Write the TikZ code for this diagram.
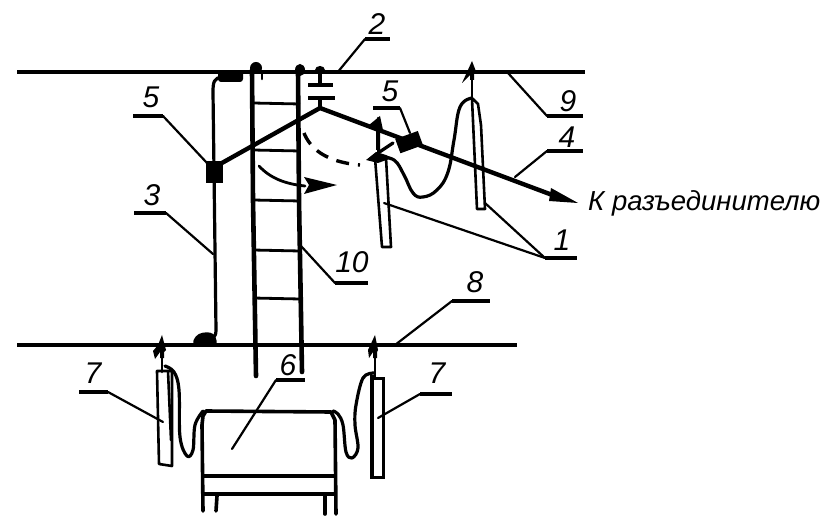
\documentclass[tikz,border=0pt]{standalone}
\usepackage{fontspec}
\setmainfont{Liberation Sans}
\usetikzlibrary{arrows.meta}
\tikzset{
  wire/.style={line width=3.2pt,line cap=round,line join=round},
  thickwire/.style={line width=4.4pt,line cap=round,line join=round},
  thin/.style={line width=2.6pt,line cap=round,line join=round},
  leader/.style={line width=2.2pt,line cap=round,line join=round},
  shelf/.style={line width=3.4pt},
  num/.style={font=\fontsize{30}{30}\selectfont\itshape,inner sep=0pt,text=black},
  caption/.style={font=\fontsize{27.5}{27.5}\selectfont\itshape,inner sep=0pt,anchor=base west},
}
\begin{document}
\begin{tikzpicture}[x=1pt,y=-1pt]
\useasboundingbox (0,0) rectangle (822,521);
% named points
\coordinate (wireStart) at (213,168);
\coordinate (wireBend) at (320,108);
\coordinate (wireEnd) at (555,196);
% busbars
\draw[line width=3.2pt] (17,72) -- (585,72);
\draw[line width=3.8pt] (17,345) -- (517,345);
% ladder
\draw[line width=4.6pt,line cap=round] (252,70) -- (253,200) -- (256,376);
\draw[line width=4.6pt,line cap=round] (298,70) -- (299,200) -- (302,372);
\fill (256,68) circle (6);
\fill (300,70) ellipse (5 and 6);
\fill (320,70) ellipse (5 and 4);
\draw[thin] (262,72) -- (262,79);
\foreach \yy in {103,150,200,250,298}
  \draw[line width=2.8pt] (253,\yy) -- (300,\yy+1);
% earth wire 3
\draw[wire] (238,76) -- (222,77) .. controls (214,78) and (213,82) .. (213,92) -- (216,330) .. controls (216,338) and (212,340) .. (205,340);
\fill[rounded corners=3pt] (218,71) rectangle (243,82);
\fill[rounded corners=4pt] (192,345) -- (195,336) -- (203,332) -- (214,333) -- (218,345) -- cycle;
\fill (206,161) rectangle (223,183);
% insulator
\draw[line width=3.4pt] (320,72) -- (320,85);
\draw[line width=3.4pt] (308,85) -- (333,85);
\draw[line width=3.4pt] (308,98) -- (335,98);
\draw[line width=3.4pt] (320,98) -- (320,108);
% main wire
\draw[thickwire] (wireStart) -- (wireBend) -- (wireEnd);
\fill (551,188) -- (578,203) -- (549,201) -- cycle;
\fill[rotate around={20:(408,142)}] (397,135) rectangle (421,150);
% left arrester on upper bar
\draw[thin] (378,118) -- (378,157);
\fill (380,116) -- (383,130) -- (380,130) -- (380,150) -- (376,150) -- (376,128) -- (369,125) -- cycle;
\draw[line width=3.2pt,line cap=round] (393,143) -- (378,153);
\fill (366,160) -- (376,152) -- (386,155) -- (392,158) -- (378,163) -- cycle;
\draw[thin] (375,158) -- (382,247) -- (391,247) -- (386,158);
\draw[wire] plot[smooth,tension=.7] coordinates {(378,157) (394,160) (404,175) (413,193) (423,197) (437,190) (448,172) (454,140) (460,107) (472,98)};
% right arrester
\draw[thin] (472,72) -- (472,99);
\fill (472,61) -- (477,74) -- (474,74) -- (474,80) -- (470,80) -- (470,75) -- (462,83) -- cycle;
\draw[thin] (472,99) -- (477,209) -- (485,209) -- (481,125) -- (478,104) -- (473,99);
% dashed arc
\draw[line width=3.4pt,dash pattern=on 13pt off 9pt] (304,133) .. controls (310,148) and (325,162) .. (360,165);
% swing arrow
\draw[line width=2.8pt,line cap=round] (259,166) .. controls (270,178) and (285,184) .. (305,186);
\fill (304,177) -- (337,185) -- (304,194) -- (309,185) -- cycle;
% lower arresters
\draw[thin] (162,345) -- (162,372);
\fill (162,335) -- (166,350) -- (164,352) -- (164,358) -- (160,358) -- (160,352) -- (155,359) -- (153,351) -- (158,345) -- cycle;
\draw[thin] (157,371) -- (172,371) -- (172,466) -- (159,464) -- cycle;
\draw[thin] (168,371) -- (171,440);
\draw[wire] plot[smooth,tension=.6] coordinates {(165,366) (174,372) (179,390) (180,437) (187,456) (193,450) (195,425) (203,411)};
\draw[thin] (375,345) -- (375,378);
\fill (375,335) -- (378,350) -- (377,352) -- (377,358) -- (373,358) -- (373,352) -- (369,358) -- (368,350) -- cycle;
\draw[line width=3pt] (371,378) rectangle (383,477);
\draw[line width=3.6pt] (372,375) -- (372,477);
\draw[wire] plot[smooth,tension=.6] coordinates {(374,373) (363,378) (356,405) (355,425) (358,448) (352,458) (346,452) (343,425) (338,414) (333,411)};
% box 6
\draw[line width=3.6pt,line cap=round,line join=round] (203,511) -- (202,425) -- (203,416) -- (206,411) -- (331,412) -- (335,420) -- (336,514);
\draw[line width=3.6pt] (203,476) -- (336,476);
\draw[line width=3.6pt] (204,494) -- (337,494);
\draw[line width=3.6pt,line cap=round] (217,496) -- (216,511);
\draw[line width=3.6pt,line cap=round] (325,496) -- (325,514);
% labels
\node[num] (n2) at (377,24) {2};
\coordinate (b2a) at (365,39);
\draw[leader] (337,73) -- (b2a);
\draw[shelf] (b2a) -- (390,39);
\node[num] (n5a) at (151,97) {5};
\draw[shelf] (133,116) -- (163,116);
\draw[leader] (163,116) -- (207,163);
\node[num] (n5b) at (390,91) {5};
\draw[shelf] (373,108) -- (400,108);
\draw[leader] (400,108) -- (410,133);
\node[num] (n3) at (152,195) {3};
\draw[shelf] (134,213) -- (166,213);
\draw[leader] (166,213) -- (213,254);
\node[num] (n10) at (352,262) {10};
\draw[shelf] (335,283) -- (368,283);
\draw[leader] (335,283) -- (301,246);
\node[num] (n8) at (475,282) {8};
\draw[shelf] (452,301) -- (490,301);
\draw[leader] (452,301) -- (395,345);
\node[num] (n6) at (288,365) {6};
\draw[shelf] (276,380) -- (305,380);
\draw[leader] (276,380) -- (232,449);
\node[num] (n7a) at (93,373) {7};
\draw[shelf] (79,392) -- (108,392);
\draw[leader] (108,392) -- (163,422);
\node[num] (n7b) at (437,373) {7};
\draw[shelf] (420,394) -- (452,394);
\draw[leader] (420,394) -- (378,418);
\node[num] (n9) at (568,101) {9};
\draw[shelf] (547,116) -- (583,116);
\draw[leader] (508,73) -- (547,116);
\node[num] (n4) at (567,137) {4};
\draw[shelf] (547,151) -- (583,151);
\draw[leader] (515,177) -- (547,151);
\node[num] (n1) at (562,240) {1};
\draw[shelf] (545,258) -- (577,258);
\draw[leader] (485,203) -- (545,258);
\draw[leader] (545,258) -- (384,203);
\node[caption] (cap) at (588,211) {К разъединителю};
\end{tikzpicture}
\end{document}
